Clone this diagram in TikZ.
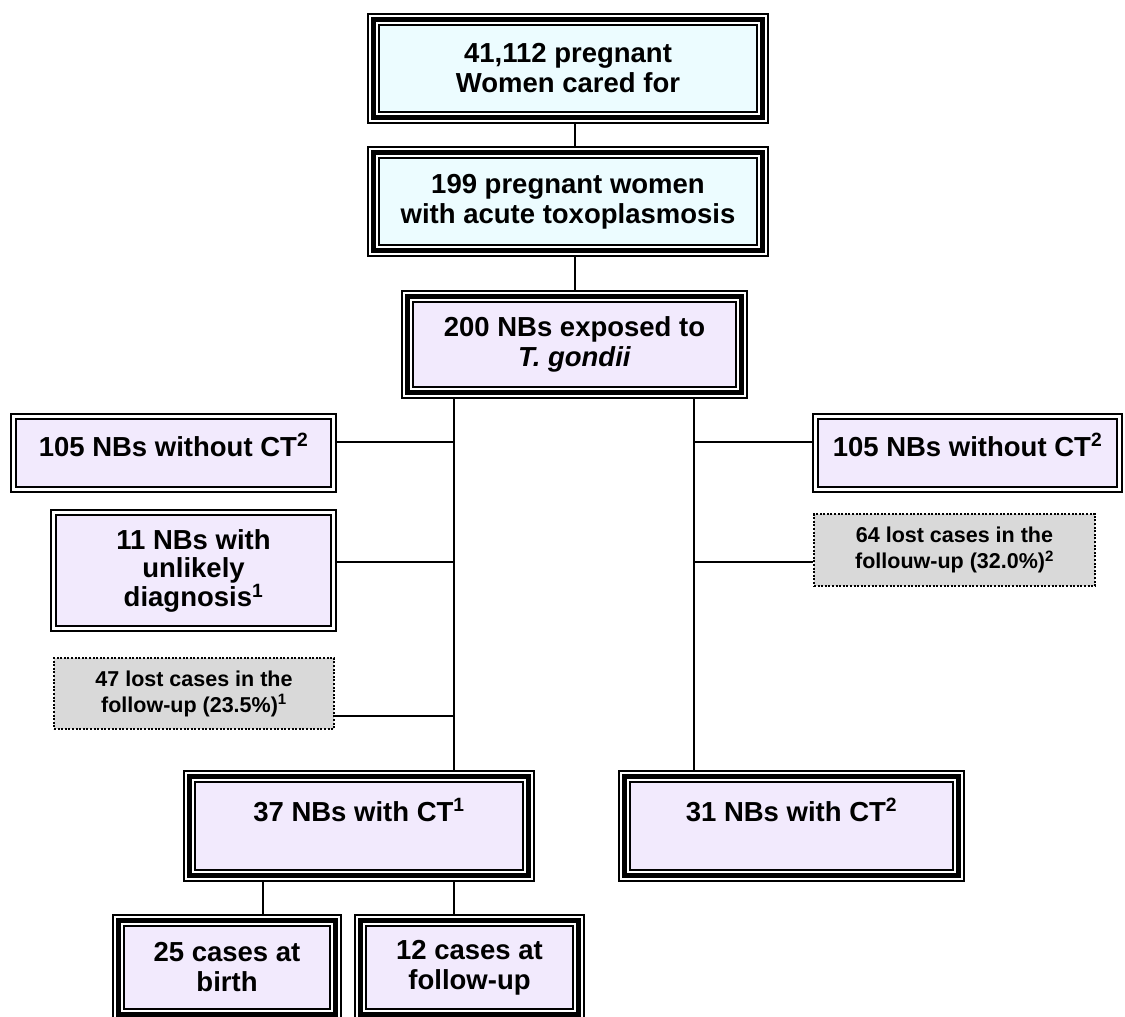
\documentclass[tikz,border=0pt]{standalone}
\usepackage{fontspec}
\setmainfont{Liberation Sans}
\usepackage{tikz}
\usetikzlibrary{calc}
\definecolor{PaleCyan}{RGB}{236,252,255}
\definecolor{PaleLilac}{RGB}{242,234,253}
\definecolor{PaleGray}{RGB}{217,217,217}
\tikzset{
  tribox/.style={draw,line width=13pt,inner sep=0pt,align=center,
    postaction={draw=white,line width=9.4pt},postaction={draw=black,line width=5pt},
    font=\bfseries\fontsize{27.5}{30}\selectfont},
  dblbox/.style={draw,fill=PaleLilac,line width=7pt,inner sep=0pt,align=center,
    postaction={draw=white,line width=3pt},
    font=\bfseries\fontsize{27.5}{28.5}\selectfont},
  lostbox/.style={draw,fill=PaleGray,line width=2pt,dash pattern=on 2pt off 1.6pt,
    inner sep=0pt,align=center,font=\bfseries\fontsize{21.5}{26}\selectfont},
  conn/.style={line width=2pt}
}
\begin{document}
\begin{tikzpicture}[x=1pt,y=-1pt]
\useasboundingbox (0,0) rectangle (1125,1017);
\node[tribox,fill=PaleCyan,minimum width=389pt,minimum height=98pt] (women) at (568,68.5) {41,112 pregnant\\Women cared for};
\node[tribox,fill=PaleCyan,minimum width=389pt,minimum height=98pt] (acute) at (568,201.5) {199 pregnant women\\with acute toxoplasmosis};
\node[tribox,fill=PaleLilac,minimum width=334pt,minimum height=96pt] (exposed) at (574.5,344.5) {200 NBs exposed to\\\textit{T. gondii}};
\node[dblbox,minimum width=320pt,text height=39.5pt,text depth=33.5pt] (noCTa) at (173.5,453) {105 NBs without CT\textsuperscript{2}};
\node[dblbox,minimum width=304pt,text height=39.5pt,text depth=33.5pt] (noCTb) at (967.5,453) {105 NBs without CT\textsuperscript{2}};
\node[dblbox,minimum width=280pt,minimum height=116pt] (unlikely) at (193.5,570.5) {11 NBs with\\unlikely\\diagnosis\textsuperscript{1}};
\node[lostbox,minimum width=280pt,minimum height=71pt] (lostA) at (194,693.5) {47 lost cases in the\\follow-up (23.5\%)\textsuperscript{1}};
\node[lostbox,minimum width=281pt,minimum height=72pt] (lostB) at (954.5,550) {64 lost cases in the\\follouw-up (32.0\%)\textsuperscript{2}};
\node[tribox,fill=PaleLilac,minimum width=339pt,text height=44.5pt,text depth=54.5pt] (ctA) at (359,826) {37 NBs with CT\textsuperscript{1}};
\node[tribox,fill=PaleLilac,minimum width=334pt,text height=44.5pt,text depth=54.5pt] (ctB) at (791.5,826) {31 NBs with CT\textsuperscript{2}};
\node[tribox,fill=PaleLilac,minimum width=217pt,minimum height=94pt] (birth) at (227,967.5) {25 cases at\\birth};
\node[tribox,fill=PaleLilac,minimum width=218pt,minimum height=94pt] (follow) at (469.5,967.5) {12 cases at\\follow-up};
\coordinate (spine) at (575,0);
\coordinate (lt) at (454,0);
\coordinate (rt) at (694,0);
\coordinate (bt) at (263,0);
\coordinate (l1) at (454,442);
\coordinate (l2) at (454,562);
\coordinate (l3) at (454,716);
\coordinate (r1) at (694,442);
\coordinate (r2) at (694,562);
\draw[conn] (women.south -| spine) -- (acute.north -| spine);
\draw[conn] (acute.south -| spine) -- (exposed.north -| spine);
\draw[conn] (exposed.south -| lt) -- (ctA.north -| lt);
\draw[conn] (exposed.south -| rt) -- (ctB.north -| rt);
\draw[conn] (l1) -- (l1 -| noCTa.east);
\draw[conn] (l2) -- (l2 -| unlikely.east);
\draw[conn] (l3) -- (l3 -| lostA.east);
\draw[conn] (r1) -- (r1 -| noCTb.west);
\draw[conn] (r2) -- (r2 -| lostB.west);
\draw[conn] (ctA.south -| bt) -- (birth.north -| bt);
\draw[conn] (ctA.south -| lt) -- (follow.north -| lt);
\end{tikzpicture}
\end{document}
